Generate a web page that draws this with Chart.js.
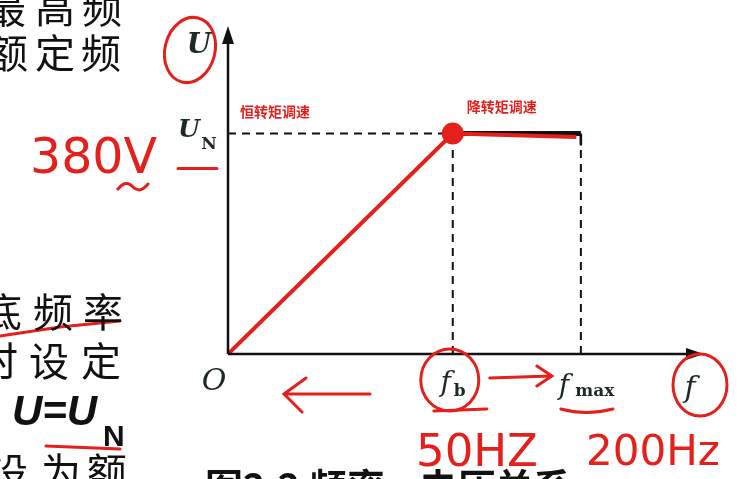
<!DOCTYPE html>
<html>
<head>
<meta charset="utf-8">
<script src="https://cdn.jsdelivr.net/npm/chart.js@4"></script>
<style>
  html, body { margin: 0; padding: 0; background: #fff; }
  #wrap { width: 743px; height: 479px; position: relative; }
</style>
</head>
<body>
<div id="wrap"><canvas id="chart" width="743" height="479"></canvas></div>
<script>
// frequency positions along the axis (fb = 1), voltage in units of U_N
const freqPoints = [0, 1, 1.57];
const voltPoints = [0, 1, 1];
const tickLabels = ['O', 'f', 'f'];
const tickSubs = ['', 'b', 'max'];
const regionLabels = ['恒转矩调速', '降转矩调速'];
const noteLabels = ['380V', '50HZ', '200Hz'];
const xMax = 2.1;
const yMax = 1.47;

const red = '#e3201b';

// book text around the figure, one glyph at a time
const drawRow = (ctx, text, centers, y) => {
  [...text].forEach((ch, i) => ctx.fillText(ch, centers[i], y));
};

// axes, arrows, labels and red pen notes
const decor = {
  id: 'decor',
  afterDraw(chart) {
    const { ctx } = chart;
    const xs = chart.scales.x, ys = chart.scales.y;
    const x0 = xs.getPixelForValue(0), y0 = ys.getPixelForValue(0);
    const xEnd = xs.getPixelForValue(xMax), yTop = ys.getPixelForValue(yMax);
    const xb = xs.getPixelForValue(freqPoints[1]);
    const xm = xs.getPixelForValue(freqPoints[2]);
    const yN = ys.getPixelForValue(voltPoints[1]);
    ctx.save();

    // axes
    ctx.strokeStyle = '#111';
    ctx.fillStyle = '#111';
    ctx.lineWidth = 2.5;
    ctx.beginPath();
    ctx.moveTo(x0, y0); ctx.lineTo(xEnd - 10, y0);
    ctx.moveTo(x0, y0); ctx.lineTo(x0, yTop + 10);
    // short solid end of the flat segment
    ctx.moveTo(xm, yN); ctx.lineTo(xm, yN + 12);
    ctx.stroke();
    ctx.beginPath();
    ctx.moveTo(xEnd + 4, y0); ctx.lineTo(xEnd - 14, y0 - 6); ctx.lineTo(xEnd - 14, y0 + 6); ctx.closePath();
    ctx.moveTo(x0, yTop - 4); ctx.lineTo(x0 - 6, yTop + 14); ctx.lineTo(x0 + 6, yTop + 14); ctx.closePath();
    ctx.fill();

    // axis labels
    ctx.fillStyle = '#1c2a22';
    ctx.textAlign = 'center';
    ctx.textBaseline = 'middle';
    ctx.font = 'italic bold 28px "DejaVu Serif", serif';
    ctx.fillText('U', x0 - 29, yTop + 16);
    ctx.font = 'italic 30px "DejaVu Serif", serif';
    ctx.fillText('f', xEnd - 10, y0 + 35);
    ctx.fillText(tickLabels[0], x0 - 14, y0 + 28);
    ctx.font = 'italic bold 25px "DejaVu Serif", serif';
    ctx.fillText('U', x0 - 39, yN - 3);
    ctx.font = 'bold 17px "DejaVu Serif", serif';
    ctx.fillText('N', x0 - 19, yN + 11);

    ctx.font = 'italic 28px "DejaVu Serif", serif';
    ctx.fillText(tickLabels[1], xb - 7, y0 + 30);
    ctx.fillText(tickLabels[2], xm - 17, y0 + 33);
    ctx.font = 'bold 17px "DejaVu Serif", serif';
    ctx.fillText(tickSubs[1], xb + 7, y0 + 38);
    ctx.fillText(tickSubs[2], xm + 14, y0 + 38);

    // red region labels
    ctx.fillStyle = red;
    ctx.font = 'bold 14px "Noto Sans CJK SC", sans-serif';
    ctx.textAlign = 'left';
    ctx.fillText(regionLabels[0], x0 + 12, yN - 22);
    ctx.fillText(regionLabels[1], xb + 14, yN - 27);

    // pen circles and strokes
    ctx.strokeStyle = red;
    ctx.lineWidth = 3;
    ctx.lineCap = 'round';
    ctx.beginPath(); ctx.ellipse(x0 - 38, yTop + 20, 25, 33, 0.25, 0, Math.PI * 2); ctx.stroke();
    ctx.beginPath(); ctx.ellipse(xb - 3, y0 + 26, 29, 31, 0, 0, Math.PI * 2); ctx.stroke();
    ctx.beginPath(); ctx.ellipse(xEnd, y0 + 31, 27, 31, 0, 0, Math.PI * 2); ctx.stroke();

    ctx.beginPath();
    ctx.moveTo(x0 - 50, yN + 35); ctx.lineTo(x0 - 11, yN + 35);
    ctx.moveTo(xb - 19, y0 + 57); ctx.lineTo(xb + 34, y0 + 55);
    ctx.moveTo(xm - 20, y0 + 55); ctx.quadraticCurveTo(xm + 5, y0 + 62, xm + 32, y0 + 55);
    // left arrow
    ctx.moveTo(x0 + 142, y0 + 40); ctx.lineTo(x0 + 58, y0 + 40);
    ctx.moveTo(x0 + 78, y0 + 24); ctx.lineTo(x0 + 56, y0 + 40); ctx.lineTo(x0 + 74, y0 + 58);
    // right arrow
    ctx.moveTo(xb + 37, y0 + 24); ctx.lineTo(xm - 30, y0 + 22);
    ctx.moveTo(xm - 44, y0 + 12); ctx.lineTo(xm - 29, y0 + 22); ctx.lineTo(xm - 44, y0 + 32);
    // tilde under 380V
    ctx.moveTo(x0 - 110, y0 - 165); ctx.quadraticCurveTo(x0 - 102, y0 - 175, x0 - 95, y0 - 167);
    ctx.quadraticCurveTo(x0 - 88, y0 - 160, x0 - 80, y0 - 170);
    // underlines in side text
    ctx.moveTo(0, 336); ctx.lineTo(60, 327); ctx.lineTo(120, 321);
    ctx.moveTo(46, 446); ctx.lineTo(120, 449);
    ctx.stroke();

    ctx.font = '49px "DejaVu Sans", sans-serif';
    ctx.textAlign = 'left';
    ctx.textBaseline = 'alphabetic';
    ctx.fillText(noteLabels[0], 30, 173);
    ctx.font = '45px "DejaVu Sans", sans-serif';
    ctx.fillText(noteLabels[1], 416, 466);
    ctx.font = '42px "DejaVu Sans", sans-serif';
    ctx.fillText(noteLabels[2], 586, 465);

    // surrounding book text
    ctx.fillStyle = '#111';
    ctx.font = '40px "Noto Sans CJK SC", sans-serif';
    ctx.textAlign = 'center';
    ctx.textBaseline = 'middle';
    drawRow(ctx, '最高频', [6, 55, 102], 8);
    drawRow(ctx, '额定频', [8, 55, 101], 53);
    drawRow(ctx, '底频率', [2, 53, 103], 312);
    drawRow(ctx, '时设定', [-2, 49, 101], 361);
    drawRow(ctx, '设为额', [8, 61, 107], 472);
    ctx.textAlign = 'left';
    ctx.font = 'bold italic 42px "Liberation Sans", sans-serif';
    ctx.fillText('U=U', 12, 413);
    ctx.font = 'bold 30px "Liberation Sans", sans-serif';
    ctx.fillText('N', 103, 438);
    ctx.font = 'bold 38px "Noto Sans CJK SC", sans-serif';
    ctx.fillText('图2.2 频率—电压关系', 205, 487);
    ctx.restore();
  }
};

const dashed = (pts) => ({
  data: pts, borderColor: '#111', borderWidth: 2, borderDash: [8, 6], pointRadius: 0, order: 4
});

new Chart(document.getElementById('chart'), {
  type: 'line',
  data: {
    datasets: [
      {
        // black rated-voltage segment
        data: [{ x: freqPoints[1], y: voltPoints[1] }, { x: freqPoints[2], y: voltPoints[2] }],
        borderColor: '#111', borderWidth: 5, pointRadius: 0, order: 3
      },
      {
        // red characteristic line
        data: [{ x: freqPoints[0], y: voltPoints[0] }, { x: freqPoints[1], y: voltPoints[1] }, { x: freqPoints[2] - 0.02, y: voltPoints[2] - 0.015 }],
        borderColor: red, borderWidth: 4, pointRadius: [0, 9, 0], pointBackgroundColor: red, pointBorderColor: red, order: 1
      },
      // dashed guide lines
      dashed([{ x: 0, y: voltPoints[1] }, { x: freqPoints[1], y: voltPoints[1] }]),
      dashed([{ x: freqPoints[1], y: 0 }, { x: freqPoints[1], y: voltPoints[1] }]),
      dashed([{ x: freqPoints[2], y: 0 }, { x: freqPoints[2], y: voltPoints[2] }])
    ]
  },
  options: {
    responsive: false,
    animation: false,
    layout: { padding: { left: 228, right: 43, top: 30, bottom: 125 } },
    plugins: { legend: { display: false }, tooltip: { enabled: false } },
    scales: {
      x: { type: 'linear', min: 0, max: xMax, display: false },
      y: { type: 'linear', min: 0, max: yMax, display: false }
    }
  },
  plugins: [decor]
});
</script>
</body>
</html>
